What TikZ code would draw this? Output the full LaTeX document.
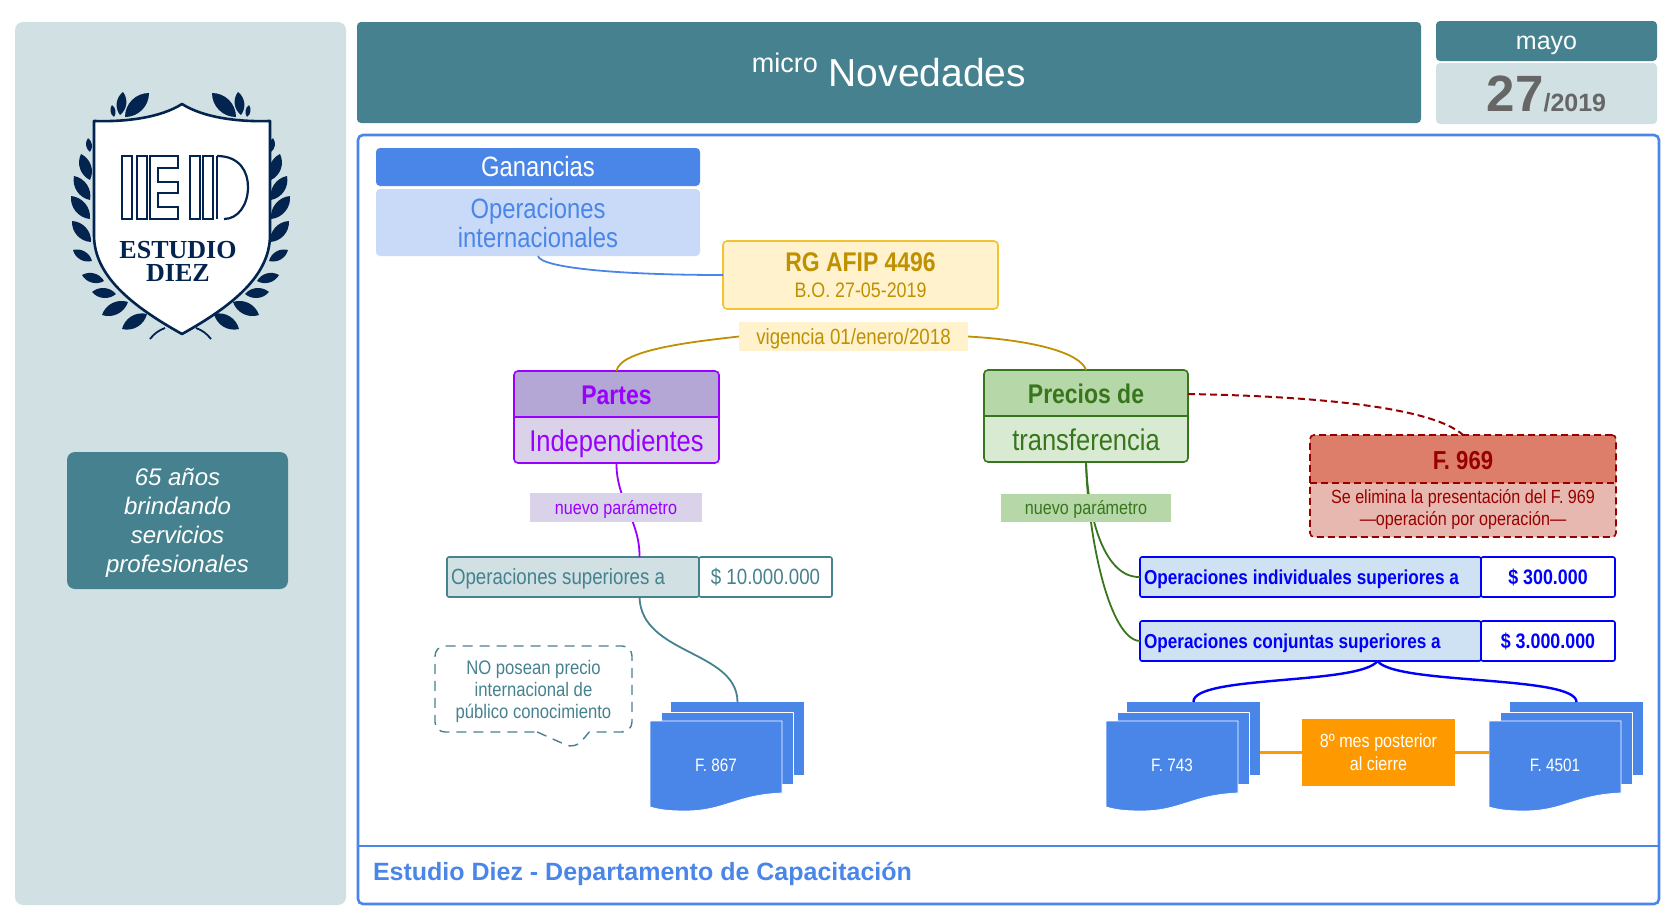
\documentclass[tikz,border=0pt]{standalone}
\usepackage{fontspec}
\usepackage{xcolor}
\usetikzlibrary{calc,shapes.callouts}

\setmainfont{Liberation Sans}
\newfontfamily\condfont[FakeStretch=0.85]{Liberation Sans}
\newfontfamily\crestfont{Liberation Serif}
\newcommand{\cond}[2]{\condfont\fontsize{#1}{#2}\selectfont}
\newcommand{\plain}[2]{\fontsize{#1}{#2}\selectfont}

\definecolor{palec}{HTML}{D0E0E3}
\definecolor{tealc}{HTML}{45818E}
\definecolor{bluec}{HTML}{4A86E8}
\definecolor{skyc}{HTML}{C9DAF8}
\definecolor{creamc}{HTML}{FFF2CC}
\definecolor{goldc}{HTML}{F1C232}
\definecolor{ochrec}{HTML}{BF9000}
\definecolor{purplec}{HTML}{9900FF}
\definecolor{lilacc}{HTML}{B4A7D6}
\definecolor{mauvec}{HTML}{D9D2E9}
\definecolor{greenc}{HTML}{38761D}
\definecolor{mossc}{HTML}{B6D7A8}
\definecolor{mintc}{HTML}{D9EAD3}
\definecolor{redc}{HTML}{980000}
\definecolor{brickc}{HTML}{DD7E6B}
\definecolor{rosec}{HTML}{E6B8AF}
\definecolor{purebluec}{HTML}{0000FF}
\definecolor{icec}{HTML}{CFE2F3}
\definecolor{orangec}{HTML}{FF9900}
\definecolor{navyc}{HTML}{02244F}
\definecolor{greyc}{HTML}{666666}

\tikzset{
    flat/.style={rounded corners=2pt, inner sep=0pt, outer sep=0pt, align=flush center},
    tag/.style={inner sep=0pt, outer sep=0pt, align=flush center},
    cap/.style={text height=#1pt, text depth=0pt},
    sheet/.style={fill=bluec, draw=white, line width=0.4pt, inner sep=0pt, outer sep=0pt},
    link/.style={line width=0.9pt},
    reddash/.style={draw=redc, dash pattern=on 3.5pt off 2pt},
    twotone/.style n args={3}{fill=#2, path picture={\fill[#1] (path picture bounding box.north west) rectangle ([yshift=#3]path picture bounding box.east);}},
}

\begin{document}
\begin{tikzpicture}[x=0.5pt, y=-0.5pt]
    \useasboundingbox (0,0) rectangle (1677,921);

    \node[flat, rounded corners=4pt, fill=palec, minimum width=165.5pt, minimum height=441.5pt] (sidepanel) at (180.5,463.5) {};
    \node[flat, rounded corners=4pt, fill=tealc, minimum width=110.5pt, minimum height=68.5pt, text depth=0pt, font={\itshape\plain{12}{14.5}}, text=white] (years) at (177.5,520.5) {65 años\\brindando\\servicios\\profesionales};

    \filldraw[fill=white, draw=navyc, line width=1.3pt, line join=round] (182,104) .. controls (160,118) and (125,122) .. (94,121) -- (94,235) .. controls (94,275) and (130,305) .. (182,334) .. controls (234,305) and (270,275) .. (270,235) -- (270,121) .. controls (239,122) and (204,118) .. (182,104) -- cycle;
    \foreach \flip/\off in {1/0,-1/361} {
        \begin{scope}[shift={(\off,0)}, xscale=\flip]
            \foreach \bx/\by/\tx/\ty in {114/117/112/105, 120/115/123/92, 125/117/149/93, 90/152/88/138, 90/180/81/154, 90/200/74/176, 90/219/71/196, 91/242/72/221, 92/261/73/250, 104/281/82/275, 116/294/92/292, 128/302/102/315, 147/314/122/329} {
                \fill[navyc] (\bx,\by) to[bend left=45] (\tx,\ty) to[bend left=45] (\bx,\by);
            }
            \draw[navyc, line width=0.9pt] (165,328) to[bend right=15] (150,339);
        \end{scope}
    }
    \begin{scope}[navyc, line width=1.1pt]
        \draw (122,156) rectangle (132,219);
        \draw (137,156) rectangle (147,219);
        \draw (150,156) -- (178,156) -- (178,168) -- (158,168) -- (158,182) -- (178,182) -- (178,193) -- (158,193) -- (158,207) -- (178,207) -- (178,219) -- (150,219) -- cycle;
        \draw (190,156) rectangle (200,219);
        \draw (203,156) rectangle (213,219);
        \draw (217,156) .. controls (240,156) and (248,172) .. (248,187) .. controls (248,205) and (238,219) .. (224,219);
        \draw (217,156) -- (217,219);
    \end{scope}
    \node[tag, text=navyc, font={\crestfont\bfseries\plain{13}{13}}] (crestone) at (178,250) {ESTUDIO};
    \node[tag, text=navyc, font={\crestfont\bfseries\plain{13}{13}}] (cresttwo) at (178,273) {DIEZ};

    \node[flat, fill=tealc, minimum width=532pt, minimum height=50.5pt, cap=13.6, text=white, font={\plain{19.5}{22}}] (header) at (889,72.5) {\raisebox{7pt}{\plain{13.5}{15}micro} Novedades};
    \node[flat, fill=tealc, minimum width=110.5pt, minimum height=20pt, cap=8.75, text=white, font={\plain{12.5}{14}}] (month) at (1546.5,41) {mayo};
    \node[flat, fill=palec, minimum width=110.5pt, minimum height=30.5pt, text=greyc, font={\bfseries\plain{12.5}{14}}] (day) at (1546.5,93.5) {{\plain{25.5}{28}27}/2019};

    \node[flat, rounded corners=2.5pt, draw=bluec, line width=1.3pt, minimum width=650.5pt, minimum height=384.5pt] (frame) at (1008.5,519.5) {};
    \draw[bluec, line width=1pt] (frame.west |- 0,846) -- (frame.east |- 0,846);
    \node[tag, anchor=west, cap=8.75, text=bluec, font={\bfseries\plain{12.5}{14}}] (footer) at (373,872) {Estudio Diez - Departamento de Capacitación};

    \node[flat, fill=bluec, minimum width=162pt, minimum height=19pt, cap=9.8, text=white, font={\cond{14}{16}}] (ganancias) at (538,167) {Ganancias};
    \node[flat, fill=skyc, minimum width=162pt, minimum height=33.5pt, text=bluec, font={\cond{14}{14.5}}] (opint) at (538,222.5) {Operaciones\\internacionales};
    \node[flat, fill=creamc, draw=goldc, line width=0.8pt, minimum width=137.5pt, minimum height=34pt, text=ochrec] (rg) at (860.5,275) {{\bfseries\cond{13.5}{16}RG AFIP 4496}\\[1pt]{\cond{10.5}{12}B.O. 27-05-2019}};
    \node[tag, fill=creamc, minimum width=114.5pt, minimum height=14.5pt, cap=7.7, text=ochrec, font={\cond{11}{12}}] (vigencia) at (853.5,336.5) {vigencia 01/enero/2018};

    \node[flat, twotone={lilacc}{mauvec}{0pt}, draw=purplec, line width=0.8pt, minimum width=102.5pt, minimum height=46pt] (partesbox) at (616.5,417) {};
    \draw[purplec, line width=0.8pt] (partesbox.west) -- (partesbox.east);
    \node[tag, cap=9.45, text=purplec, font={\bfseries\cond{13.5}{16}}] (partes) at (616.5,395) {Partes};
    \node[tag, cap=10.5, text=purplec, font={\cond{15}{17}}] (indep) at (616.5,441) {Independientes};

    \node[flat, twotone={mossc}{mintc}{0pt}, draw=greenc, line width=0.8pt, minimum width=102pt, minimum height=46pt] (preciosbox) at (1086,416) {};
    \draw[greenc, line width=0.8pt] (preciosbox.west) -- (preciosbox.east);
    \node[tag, cap=9.45, text=greenc, font={\bfseries\cond{13.5}{16}}] (precios) at (1086,394) {Precios de};
    \node[tag, cap=10.5, text=greenc, font={\cond{15}{17}}] (transf) at (1086,440) {transferencia};

    \node[flat, twotone={brickc}{rosec}{1.5pt}, reddash, line width=0.8pt, minimum width=153pt, minimum height=51pt] (f969box) at (1463,486) {};
    \draw[reddash, line width=0.8pt] (f969box.west |- 0,483) -- (f969box.east |- 0,483);
    \node[tag, cap=9.1, text=redc, font={\bfseries\cond{13}{16}}] (f969) at (1463,460) {F. 969};
    \node[tag, text=redc, font={\cond{9.5}{11}}] (f969txt) at (1463,509) {Se elimina la presentación del F. 969\\—operación por operación—};

    \node[flat, rounded corners=1pt, fill=palec, draw=tealc, line width=0.8pt, text width=122pt, inner xsep=2pt, minimum height=20pt, cap=7.7, align=flush left, text=tealc, font={\cond{11}{13}}] (opsup) at (573,577) {Operaciones superiores a};
    \node[flat, rounded corners=1pt, fill=white, draw=tealc, line width=0.8pt, minimum width=66.5pt, minimum height=20pt, cap=7.7, text=tealc, font={\cond{11}{13}}] (opsupval) at (765.5,577) {\$ 10.000.000};
    \node[flat, rounded corners=1pt, fill=icec, draw=purebluec, line width=0.8pt, text width=166.5pt, inner xsep=2pt, minimum height=20pt, cap=7.1, align=flush left, text=purebluec, font={\bfseries\cond{10.1}{13}}] (opind) at (1310.5,577) {Operaciones individuales superiores a};
    \node[flat, rounded corners=1pt, fill=white, draw=purebluec, line width=0.8pt, minimum width=67pt, minimum height=20pt, cap=7.35, text=purebluec, font={\bfseries\cond{10.5}{13}}] (opindval) at (1548,577) {\$ 300.000};
    \node[flat, rounded corners=1pt, fill=icec, draw=purebluec, line width=0.8pt, text width=166.5pt, inner xsep=2pt, minimum height=20pt, cap=7.1, align=flush left, text=purebluec, font={\bfseries\cond{10.1}{13}}] (opconj) at (1310.5,641) {Operaciones conjuntas superiores a};
    \node[flat, rounded corners=1pt, fill=white, draw=purebluec, line width=0.8pt, minimum width=67pt, minimum height=20pt, cap=7.35, text=purebluec, font={\bfseries\cond{10.5}{13}}] (opconjval) at (1548,641) {\$ 3.000.000};

    \node[rectangle callout, callout absolute pointer={(575,749)}, callout pointer width=26pt, rounded corners=5pt, draw=tealc, dash pattern=on 5pt off 3.5pt, line width=0.7pt, minimum width=98.5pt, minimum height=43pt, inner sep=0pt, outer sep=0pt, align=flush center, text depth=0pt, text=tealc, font={\cond{9.8}{11}}] (notice) at (533.5,689) {NO posean precio\\internacional de\\público conocimiento};

    \foreach \name/\dx/\lab in {f867/0/F. 867, f743/456/F. 743, f4501/839/F. 4501} {
        \node[sheet, draw=none, minimum width=66.5pt, minimum height=36.5pt] (\name back) at (737.5+\dx,738.5) {};
        \node[sheet, minimum width=66pt, minimum height=36pt] (\name mid) at (727+\dx,748) {};
        \filldraw[fill=bluec, draw=white, line width=0.4pt] (650+\dx,721) -- (782+\dx,721) -- (782+\dx,793) .. controls (735+\dx,795) and (725+\dx,811) .. (685+\dx,811) .. controls (670+\dx,811) and (660+\dx,810) .. (650+\dx,807) -- cycle;
        \node[tag, text=white, minimum width=66pt, minimum height=43.5pt, font={\cond{9}{11}}] (\name) at (716+\dx,765) {\lab};
    }

    \node[flat, rounded corners=0pt, fill=orangec, minimum width=76.5pt, minimum height=33.5pt, text=white, font={\cond{9.5}{11.5}}] (plazo) at (1378.5,752.5) {8º mes posterior\\al cierre};

    \coordinate (opsuptop) at ($(opsup.north west)!0.5!(opsupval.north east)$);
    \coordinate (opsupbot) at ($(opsup.south west)!0.5!(opsupval.south east)$);
    \coordinate (opconjbot) at ($(opconj.south west)!0.5!(opconjval.south east)$);

    \draw[bluec, link] (opint.south) .. controls (541,268) and (620,275) .. (rg.west);
    \draw[ochrec, link] (partesbox.north) .. controls (620,350) and (690,342) .. (vigencia.west);
    \draw[ochrec, link] (vigencia.east) .. controls (1030,340) and (1080,352) .. (preciosbox.north);
    \draw[purplec, link] (partesbox.south) .. controls (616,500) and (640,520) .. (opsuptop);
    \draw[tealc, link] (opsupbot) .. controls (641,655) and (737,650) .. (f867back.north);
    \draw[greenc, link] (preciosbox.south) .. controls (1088,520) and (1105,578) .. (opind.west);
    \draw[greenc, link] (preciosbox.south) .. controls (1088,540) and (1110,640) .. (opconj.west);
    \draw[purebluec, line width=1.2pt] (opconjbot) .. controls (1360,685) and (1192,675) .. (f743back.north);
    \draw[purebluec, line width=1.2pt] (opconjbot) .. controls (1395,685) and (1576,675) .. (f4501back.north);
    \draw[reddash, line width=1pt] (preciosbox.east |- precios.east) .. controls (1300,396) and (1430,405) .. (f969box.north);
    \draw[orangec, line width=1.2pt] (f743back.east |- plazo.west) -- (plazo.west);
    \draw[orangec, line width=1.2pt] (plazo.east) -- (f4501.west |- plazo.east);

    \node[tag, fill=mauvec, minimum width=86pt, minimum height=14.5pt, cap=6.65, text=purplec, font={\cond{9.5}{11}}] (nuevoizq) at (616,507.5) {nuevo parámetro};
    \node[tag, fill=mossc, minimum width=85pt, minimum height=14pt, cap=6.65, text=greenc, font={\cond{9.5}{11}}] (nuevoder) at (1086,508) {nuevo parámetro};
\end{tikzpicture}
\end{document}
